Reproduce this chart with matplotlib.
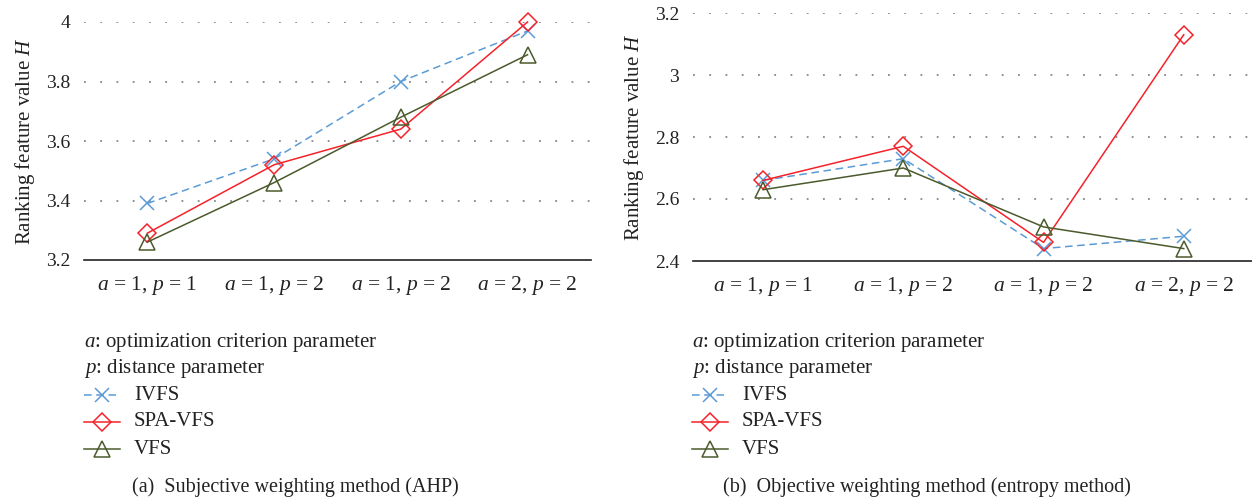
import matplotlib
matplotlib.use('Agg')
import matplotlib.pyplot as plt
from matplotlib.lines import Line2D

plt.rcParams['font.family'] = 'Liberation Serif'
plt.rcParams['mathtext.fontset'] = 'custom'
plt.rcParams['mathtext.rm'] = 'Liberation Serif'
plt.rcParams['mathtext.it'] = 'Liberation Serif:italic'

categories = [r'$a$ = 1, $p$ = 1', r'$a$ = 1, $p$ = 2', r'$a$ = 1, $p$ = 2', r'$a$ = 2, $p$ = 2']

ivfs_ahp = [3.39, 3.54, 3.80, 3.97]
spa_vfs_ahp = [3.29, 3.52, 3.64, 4.00]
vfs_ahp = [3.26, 3.46, 3.68, 3.89]

ivfs_ent = [2.66, 2.73, 2.44, 2.48]
spa_vfs_ent = [2.66, 2.77, 2.46, 3.13]
vfs_ent = [2.63, 2.70, 2.51, 2.44]

yticks_ahp = [3.2, 3.4, 3.6, 3.8, 4.0]
ytick_labels_ahp = ['3.2', '3.4', '3.6', '3.8', '4']
yticks_ent = [2.4, 2.6, 2.8, 3.0, 3.2]
ytick_labels_ent = ['2.4', '2.6', '2.8', '3', '3.2']

BLUE = '#5b9bd5'
RED = '#f5222a'
GREEN = '#4b5a2c'
TXT = '#222222'

series_style = [
    ('IVFS', dict(color=BLUE, linestyle=(0, (5, 3)), marker='x', markersize=10, markeredgewidth=1.1, linewidth=1.1)),
    ('SPA-VFS', dict(color=RED, linestyle='-', marker='D', markersize=9, markerfacecolor='none', markeredgewidth=1.1, linewidth=1.1)),
    ('VFS', dict(color=GREEN, linestyle='-', marker='^', markersize=12, markerfacecolor='none', markeredgewidth=1.1, linewidth=1.1)),
]

fig = plt.figure(figsize=(12.52, 5), dpi=100)
ax1 = fig.add_axes([0.067, 0.48, 0.405, 0.476])
ax2 = fig.add_axes([0.5535, 0.478, 0.448, 0.496])


def draw(ax, data, yticks, ylabels):
    x = list(range(len(categories)))
    for (name, st), vals in zip(series_style, data):
        ax.plot(x, vals, label=name, clip_on=False, zorder=3, **st)
    ax.set_xlim(-0.5, 3.5)
    ax.set_ylim(yticks[0], yticks[-1])
    ax.set_yticks(yticks)
    ax.set_yticklabels(ylabels)
    ax.set_xticks(x)
    ax.set_xticklabels(categories)
    for s in ['top', 'right', 'left']:
        ax.spines[s].set_visible(False)
    ax.spines['bottom'].set_color(TXT)
    ax.spines['bottom'].set_linewidth(1.2)
    ax.tick_params(axis='y', length=0, labelsize=14, colors=TXT, pad=10)
    ax.tick_params(axis='x', length=0, labelsize=15.5, colors=TXT, pad=10)
    for yv in yticks[1:]:
        ax.axhline(yv, color='#888888', linestyle=(0, (1, 8)), linewidth=1.3, zorder=1)
    ax.set_ylabel('Ranking feature value $H$', fontsize=15, color=TXT, labelpad=6)


draw(ax1, [ivfs_ahp, spa_vfs_ahp, vfs_ahp], yticks_ahp, ytick_labels_ahp)
draw(ax2, [ivfs_ent, spa_vfs_ent, vfs_ent], yticks_ent, ytick_labels_ent)

# legend blocks below the axes
for x0, caption, cx in [(84, '(a)  Subjective weighting method (AHP)', 132),
                        (692, '(b)  Objective weighting method (entropy method)', 723)]:
    fig.text(x0 / 1252, 1 - 343 / 500, r'$a$: optimization criterion parameter', fontsize=15, va='center', color=TXT)
    fig.text(x0 / 1252, 1 - 368 / 500, r'$p$: distance parameter', fontsize=15, va='center', color=TXT)
    for i, (name, st) in enumerate(series_style):
        yy = 1 - (395 + i * 27) / 500
        ln = Line2D([x0 / 1252, (x0 + 18) / 1252, (x0 + 36) / 1252], [yy, yy, yy],
                    transform=fig.transFigure, markevery=[1], **st)
        fig.add_artist(ln)
        fig.text((x0 + 50) / 1252, yy, name, fontsize=15, va='center', color=TXT)
    fig.text(cx / 1252, 1 - 487 / 500, caption, fontsize=14.5, va='center', ha='left', color=TXT)

plt.savefig('out.png', dpi=100)
